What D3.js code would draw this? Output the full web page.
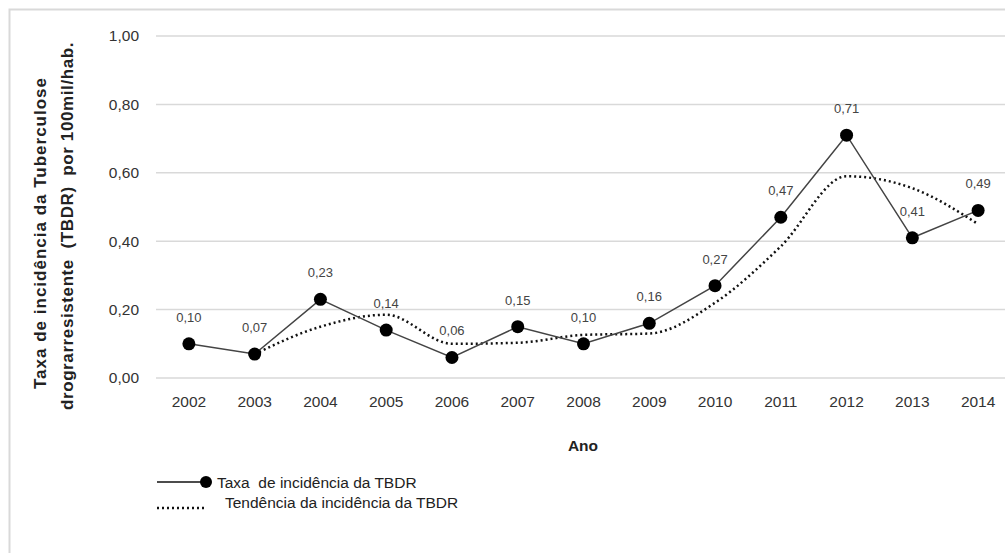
<!DOCTYPE html>
<html>
<head>
<meta charset="utf-8">
<script src="https://cdn.jsdelivr.net/npm/d3@7"></script>
<style>
  body { margin: 0; background: #fff; }
  svg { font-family: "Liberation Sans", Arial, sans-serif; }
  text { white-space: pre; }
</style>
</head>
<body>
<svg></svg>
<script>
let anos = ['2002','2003','2004','2005','2006','2007','2008','2009','2010','2011','2012','2013','2014']
let taxa = [0.10, 0.07, 0.23, 0.14, 0.06, 0.15, 0.10, 0.16, 0.27, 0.47, 0.71, 0.41, 0.49]
// tendencia starts at 2003
let tendencia = [null, 0.07, 0.15, 0.185, 0.10, 0.103, 0.126, 0.13, 0.22, 0.385, 0.59, 0.555, 0.45]
let yTicks = [0, 0.2, 0.4, 0.6, 0.8, 1.0]

let width = 1005
let height = 553

let svg = d3.select('svg')
    .attr('width', width)
    .attr('height', height)

// outer frame
svg.append('rect')
    .attr('x', 9.5).attr('y', 9.5)
    .attr('width', width + 20).attr('height', height + 20)
    .attr('fill', 'none')
    .attr('stroke', '#d9d9d9')
    .attr('stroke-width', 2)

let xScale = d3.scaleBand()
    .domain(anos)
    .range([156, 1011])

let yScale = d3.scaleLinear()
    .domain([0, 1])
    .range([378, 36])

let fmt = (v) => d3.format('.2f')(v).replace('.', ',')
let cx = (d) => xScale(d) + xScale.bandwidth() / 2

// gridlines
svg.append('g')
    .selectAll('line')
    .data(yTicks)
    .enter()
    .append('line')
    .attr('x1', 156)
    .attr('x2', width)
    .attr('y1', (d) => yScale(d))
    .attr('y2', (d) => yScale(d))
    .attr('stroke', '#d9d9d9')
    .attr('stroke-width', 1.5)

// y axis
let yAxis = d3.axisLeft(yScale)
    .tickValues(yTicks)
    .tickFormat(fmt)
    .tickSize(0)
    .tickPadding(0)

let gy = svg.append('g')
    .attr('transform', 'translate(139, 0)')
    .call(yAxis)
gy.select('.domain').remove()
gy.selectAll('text')
    .attr('font-size', 15.5)
    .attr('fill', '#333')
    .attr('font-family', '"Liberation Sans", Arial, sans-serif')

// x axis
let xAxis = d3.axisBottom(xScale).tickSize(0).tickPadding(0)
let gx = svg.append('g')
    .attr('transform', 'translate(0, 396)')
    .call(xAxis)
gx.select('.domain').remove()
gx.selectAll('text')
    .attr('font-size', 15.5)
    .attr('fill', '#333')
    .attr('font-family', '"Liberation Sans", Arial, sans-serif')

// trend line (dotted)
let trendLine = d3.line()
    .defined((d) => d[1] !== null)
    .x((d) => cx(d[0]))
    .y((d) => yScale(d[1]))
    .curve(d3.curveMonotoneX)

svg.append('path')
    .datum(anos.map((a, i) => [a, tendencia[i]]))
    .attr('d', trendLine)
    .attr('fill', 'none')
    .attr('stroke', '#111')
    .attr('stroke-width', 2.5)
    .attr('stroke-dasharray', '2 3')

// rate line
let rateLine = d3.line()
    .x((d) => cx(d[0]))
    .y((d) => yScale(d[1]))

svg.append('path')
    .datum(anos.map((a, i) => [a, taxa[i]]))
    .attr('d', rateLine)
    .attr('fill', 'none')
    .attr('stroke', '#444')
    .attr('stroke-width', 1.5)

svg.selectAll('circle.dot')
    .data(anos)
    .enter()
    .append('circle')
    .attr('class', 'dot')
    .attr('cx', (d) => cx(d))
    .attr('cy', (d, i) => yScale(taxa[i]))
    .attr('r', 6.5)
    .attr('fill', '#000')

// data labels
svg.selectAll('text.lbl')
    .data(anos)
    .enter()
    .append('text')
    .attr('class', 'lbl')
    .attr('x', (d) => cx(d))
    .attr('y', (d, i) => yScale(taxa[i]) - 22)
    .attr('text-anchor', 'middle')
    .attr('font-size', 13)
    .attr('fill', '#444')
    .text((d, i) => fmt(taxa[i]))

// axis titles
svg.append('text')
    .attr('x', 583)
    .attr('y', 451)
    .attr('text-anchor', 'middle')
    .attr('font-size', 15.5)
    .attr('font-weight', 'bold')
    .attr('fill', '#222')
    .text('Ano')

svg.append('text')
    .attr('transform', 'translate(46, 233) rotate(-90)')
    .attr('text-anchor', 'middle')
    .attr('font-size', 17)
    .attr('letter-spacing', 1)
    .attr('font-weight', 'bold')
    .attr('fill', '#222')
    .text('Taxa de incidência da Tuberculose')

svg.append('text')
    .attr('transform', 'translate(73, 226) rotate(-90)')
    .attr('text-anchor', 'middle')
    .attr('font-size', 17)
    .attr('letter-spacing', 0.6)
    .attr('font-weight', 'bold')
    .attr('fill', '#222')
    .text('drograrresistente  (TBDR)  por 100mil/hab.')

// legend
let lg = svg.append('g')
lg.append('line')
    .attr('x1', 157).attr('x2', 206)
    .attr('y1', 482).attr('y2', 482)
    .attr('stroke', '#111').attr('stroke-width', 1.5)
lg.append('circle')
    .attr('cx', 206).attr('cy', 482).attr('r', 6)
    .attr('fill', '#000')
lg.append('text')
    .attr('x', 217).attr('y', 488)
    .attr('font-size', 15.5)
    .attr('fill', '#222')
    .text('Taxa  de incidência da TBDR')
lg.append('line')
    .attr('x1', 157).attr('x2', 205)
    .attr('y1', 508).attr('y2', 508)
    .attr('stroke', '#111').attr('stroke-width', 2.5)
    .attr('stroke-dasharray', '2 3')
lg.append('text')
    .attr('x', 225).attr('y', 508)
    .attr('font-size', 15.5)
    .attr('fill', '#222')
    .text('Tendência da incidência da TBDR')
</script>
</body>
</html>
